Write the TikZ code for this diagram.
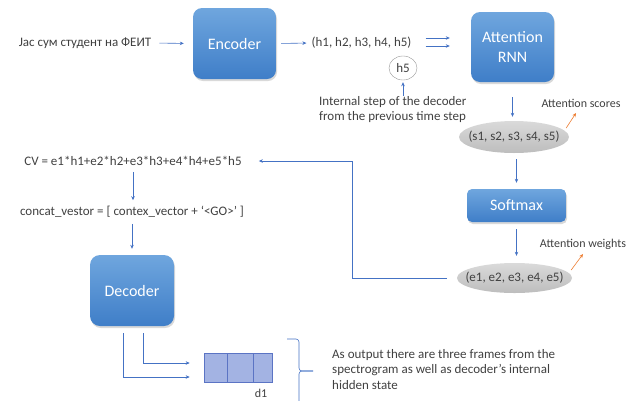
\documentclass[tikz,border=0pt]{standalone}
\usepackage{fontspec}
\setmainfont{Carlito}
\usetikzlibrary{arrows.meta,shadows,shapes.geometric,calc}
\definecolor{txt}{HTML}{404040}
\definecolor{arr}{HTML}{4472C4}
\definecolor{org}{HTML}{ED7D31}
\definecolor{boxtop}{HTML}{6FA6DE}
\definecolor{boxbot}{HTML}{3F7EC8}
\definecolor{elltop}{HTML}{DADADA}
\definecolor{ellbot}{HTML}{BDBDBD}
\definecolor{frfill}{HTML}{A3B3E3}
\definecolor{frline}{HTML}{5B74C4}
\tikzset{
  blk/.style={rounded corners=9pt, top color=boxtop, bottom color=boxbot, text=white,
    font=\fontsize{16}{20}\selectfont, align=center, inner sep=0pt,
    drop shadow={opacity=0.3, shadow xshift=1pt, shadow yshift=-2pt}},
  lbl/.style={text=txt, font=\fontsize{13}{15.5}\selectfont, inner sep=0pt},
  note/.style={text=txt, font=\fontsize{12}{14}\selectfont, inner sep=0pt},
  ell/.style={ellipse, top color=elltop, bottom color=ellbot, text=txt,
    font=\fontsize{13}{15}\selectfont, inner xsep=-14pt, inner ysep=0pt},
  con/.style={draw=arr, line width=0.6pt, -{Stealth[length=4pt,width=3.5pt]}},
  ocon/.style={draw=org, line width=0.6pt, -{Stealth[length=4pt,width=3.5pt]}},
  frame/.style={draw=frline, fill=frfill, minimum height=29pt, inner sep=0pt, line width=0.6pt}
}
\begin{document}
\begin{tikzpicture}[x=1pt,y=-1pt]
\useasboundingbox (0,0) rectangle (637,400);
% nodes
\node[lbl] (in) at (85,43) {Јас сум студент на ФЕИТ};
\node[blk, minimum width=83pt, minimum height=71pt] (enc) at (234.5,43.5) {Encoder};
\node[lbl] (hs) at (361.5,43) {(h1, h2, h3, h4, h5)};
\node[ellipse, draw=gray!80, fill=white, minimum width=28pt, minimum height=24pt, inner sep=0pt, lbl] (h5) at (403,68) {h5};
\node[lbl, align=left, anchor=north west] (int) at (319,96) {Internal step of the decoder\\from the previous time step};
\node[blk, minimum width=83pt, minimum height=70pt] (att) at (512.5,47) {Attention\\RNN};
\node[ell, minimum width=110pt, minimum height=32pt] (s) at (514,137) {(s1, s2, s3, s4, s5)};
\node[note] (sc) at (581,103) {Attention scores};
\coordinate (sctip) at (576,113);
\node[blk, rounded corners=5pt, minimum width=99pt, minimum height=33pt] (soft) at (516.5,205.5) {Softmax};
\node[note] (wt) at (583,244) {Attention weights};
\coordinate (wttip) at (583,254);
\node[ell, minimum width=115pt, minimum height=30pt] (e) at (514.5,278) {(e1, e2, e3, e4, e5)};
\node[lbl] (cv) at (133,161) {CV = e1*h1+e2*h2+e3*h3+e4*h4+e5*h5};
\coordinate (bend) at (352,161);
\node[lbl] (cc) at (132,212) {concat\_vestor = [ contex\_vector + ‘<GO>’ ]};
\node[blk, rounded corners=10pt, minimum width=84pt, minimum height=71pt] (dec) at (132,290.5) {Decoder};
\node[frame, minimum width=23pt] (f1) at (215.5,367.5) {};
\node[frame, minimum width=26pt] (f2) at (240,367.5) {};
\node[frame, minimum width=19pt] (f3) at (262.5,367.5) {};
\node[note] (d1) at (261,393) {d1};
\node[lbl, align=left, anchor=north west] (out) at (332,349) {As output there are three frames from the\\spectrogram as well as decoder’s internal\\hidden state};
% connectors
\draw[con, shorten <=8pt, shorten >=9pt] (in.east) -- (enc.west);
\draw[con, shorten <=5pt, shorten >=5pt] (enc.east) -- (hs.west);
\draw[con] ([xshift=14pt,yshift=5pt]hs.east) -- ([xshift=-21pt,yshift=5pt]hs.east -| att.west);
\draw[con] ([xshift=14pt,yshift=-3pt]hs.east) -- ([xshift=-21pt,yshift=-3pt]hs.east -| att.west);
\draw[con, shorten >=2pt] (int.north -| h5.south) -- (h5.south);
\draw[con, shorten <=15pt, shorten >=4pt] (att.south) -- (s.north -| att.south);
\draw[con, shorten <=6pt, shorten >=6pt] (s.south -| soft.north) -- (soft.north);
\draw[con, shorten <=7pt, shorten >=7pt] (soft.south) -- (e.north -| soft.south);
\draw[ocon] ([xshift=-3pt,yshift=9pt]s.east) -- (sctip);
\draw[ocon] ([xshift=-1pt,yshift=8pt]e.east) -- (wttip);
\draw[con, shorten <=10pt, shorten >=17pt] (e.west) -| (bend) -- (cv.east);
\draw[con, shorten <=6pt, shorten >=6pt] (cv.south) -- (cc.north -| cv.south);
\draw[con, shorten <=6pt, shorten >=6pt] (cc.south -| dec.north) -- (dec.north);
\draw[con] ([xshift=11pt,yshift=-7pt]dec.south) |- ([xshift=-14pt,yshift=4.5pt]f1.west);
\draw[con] ([xshift=-9pt,yshift=-7pt]dec.south) |- ([xshift=-14pt,yshift=-9.5pt]f1.west);
% brace
\draw[arr, line width=0.6pt, rounded corners=3pt] (287,339) -- (299,339) -- (299,371) -- (313,371);
\draw[arr, line width=0.6pt, rounded corners=3pt] (313,371) -- (299,371) -- (299,405);
\end{tikzpicture}
\end{document}
